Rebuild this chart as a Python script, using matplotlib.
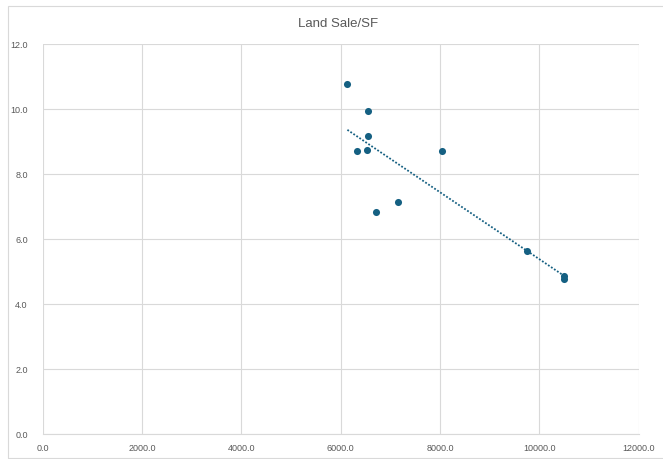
import numpy as np
import matplotlib.pyplot as plt
from matplotlib.patches import Rectangle

plt.rcParams['font.family'] = ['Liberation Sans Narrow', 'Liberation Sans', 'DejaVu Sans']

# sale price vs land area
area = [6134, 6543, 6543, 6322, 6529, 8047, 7147, 6718, 9744, 10495, 10495]
price_sf = [10.76, 9.93, 9.17, 8.70, 8.73, 8.70, 7.14, 6.82, 5.64, 4.87, 4.78]
x_ticks = [0, 2000, 4000, 6000, 8000, 10000, 12000]
y_ticks = [0, 2, 4, 6, 8, 10, 12]

point_color = '#156082'
grid_color = '#D9D9D9'
text_color = '#595959'

fig = plt.figure(figsize=(6.63, 4.59), dpi=100)
# chart border; its right side runs off the canvas
fig.patches.append(Rectangle((8 / 663, 1 - 458 / 459), 670 / 663, 452.5 / 459,
                             transform=fig.transFigure, fill=False,
                             edgecolor=grid_color, linewidth=0.8))

ax = fig.add_axes([43 / 663, 1 - 434.3 / 459, 595.5 / 663, 390.3 / 459])
ax.scatter(area, price_sf, s=26, color=point_color, zorder=3, linewidths=0)

# linear trendline over the data range
slope, intercept = np.polyfit(area, price_sf, 1)
xs = np.array([min(area), max(area)])
ax.plot(xs, slope * xs + intercept, linestyle=(0, (1, 1)), color=point_color,
        linewidth=1.3, zorder=2)

ax.set_xlim(0, 12000)
ax.set_ylim(0, 12)
ax.set_xticks(x_ticks)
ax.set_yticks(y_ticks)
ax.set_xticklabels(['%.1f' % v for v in x_ticks])
ax.set_yticklabels(['%.1f' % v for v in y_ticks])
ax.grid(True, color=grid_color, linewidth=0.8)
ax.set_axisbelow(True)
for side in ['top', 'right', 'left']:
    ax.spines[side].set_visible(False)
ax.spines['bottom'].set_color(grid_color)
ax.spines['bottom'].set_linewidth(0.8)
ax.tick_params(length=0, labelsize=6.5, colors=text_color)
ax.tick_params(axis='x', pad=7)
ax.tick_params(axis='y', pad=11)

fig.text(338 / 663, 1 - 24 / 459, 'Land Sale/SF', ha='center', va='center',
         fontsize=9.5, color=text_color)

fig.savefig('out.png', dpi=100)
